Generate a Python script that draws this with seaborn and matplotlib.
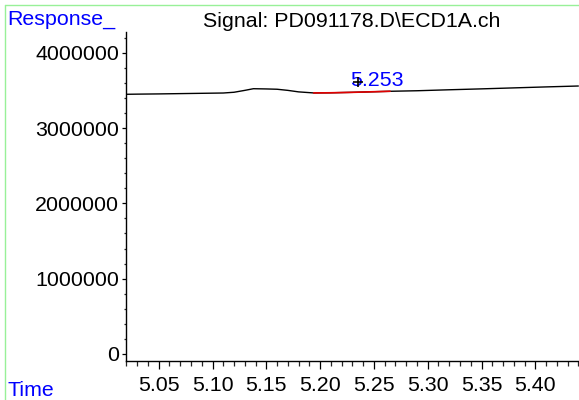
import matplotlib
matplotlib.use("Agg")
import matplotlib.pyplot as plt
from matplotlib.lines import Line2D
from matplotlib.ticker import MultipleLocator, FormatStrFormatter
import seaborn as sns
import pandas as pd

# Chromatogram trace (time in min, detector response)
time = [5.020, 5.030, 5.050, 5.070, 5.090, 5.110, 5.120, 5.130, 5.138,
        5.150, 5.160, 5.170, 5.180, 5.194, 5.210, 5.230, 5.250, 5.265,
        5.290, 5.320, 5.350, 5.380, 5.410, 5.440]
response = [3448000, 3450000, 3453000, 3457000, 3461000, 3465000, 3475000,
            3500000, 3522000, 3519000, 3515000, 3500000, 3480000, 3466000,
            3468000, 3474000, 3482000, 3488000, 3495000, 3508000, 3520000,
            3533000, 3546000, 3558000]

# Integrated peak
peak_rt = 5.253
peak_start = 5.194
peak_end = 5.265
apex_marker_t = 5.2355
apex_marker_y = 3611000
label_y = 3558000

signal_title = "Signal: PD091178.D\\ECD1A.ch"

FS = 15.4

df = pd.DataFrame({"Time": time, "Response": response})
peak_df = df[(df["Time"] >= peak_start) & (df["Time"] <= peak_end)]

sns.set_style("ticks")
plt.rcParams["font.family"] = ["Liberation Sans", "DejaVu Sans"]
plt.rcParams["font.size"] = FS

fig = plt.figure(figsize=(5.79, 4.00), dpi=100)
ax = fig.add_axes([126 / 579, 1 - 361 / 400, 1 - 126 / 579, (361 - 32) / 400])

sns.lineplot(data=df, x="Time", y="Response", ax=ax, color="black",
             linewidth=1.0, estimator=None, sort=True)
sns.lineplot(data=peak_df, x="Time", y="Response", ax=ax, color="#e00000",
             linewidth=1.2, estimator=None, sort=True)

ax.plot([apex_marker_t], [apex_marker_y], marker="+", markersize=7,
        markeredgewidth=1.2, color="black", linestyle="none", zorder=5)
ax.text(peak_rt, label_y, f"{peak_rt:.3f}", color="#0000ff", ha="center",
        va="baseline", fontsize=FS, zorder=4)

ax.set_xlim(5.0196, 5.4406)
ax.set_ylim(-93000, 4275000)
ax.set_xlabel("")
ax.set_ylabel("")

ax.xaxis.set_major_locator(MultipleLocator(0.05))
ax.xaxis.set_minor_locator(MultipleLocator(0.01))
ax.xaxis.set_major_formatter(FormatStrFormatter("%.2f"))
ax.yaxis.set_major_locator(MultipleLocator(1000000))
ax.yaxis.set_minor_locator(MultipleLocator(200000))
ax.yaxis.set_major_formatter(FormatStrFormatter("%d"))

ax.tick_params(axis="x", which="major", length=6, width=0.9, pad=5,
               labelsize=FS, colors="black")
ax.tick_params(axis="x", which="minor", length=3.8, width=0.9)
ax.tick_params(axis="y", which="major", length=2.6, width=0.9, pad=2.5,
               labelsize=FS, colors="black")
ax.tick_params(axis="y", which="minor", length=1.8, width=0.9)

sns.despine(ax=ax)
for side in ("left", "bottom"):
    ax.spines[side].set_color("black")
    ax.spines[side].set_linewidth(1.0)
ax.set_facecolor("white")

# Page frame lines
fig.add_artist(Line2D([5 / 579, 1], [1 - 5 / 400, 1 - 5 / 400],
                      color="#98f098", linewidth=1.0, transform=fig.transFigure))
fig.add_artist(Line2D([5 / 579, 5 / 579], [0, 1 - 5 / 400],
                      color="#98f098", linewidth=1.0, transform=fig.transFigure))

fig.text(7 / 579, 1 - 25 / 400, "Response_", color="#0000ff", fontsize=FS,
         ha="left", va="baseline")
fig.text(352 / 579, 1 - 27 / 400, signal_title, color="black", fontsize=FS,
         ha="center", va="baseline")
fig.text(7 / 579, 1 - 396 / 400, "Time", color="#0000ff", fontsize=FS,
         ha="left", va="baseline")

fig.savefig("out.png", dpi=100)
